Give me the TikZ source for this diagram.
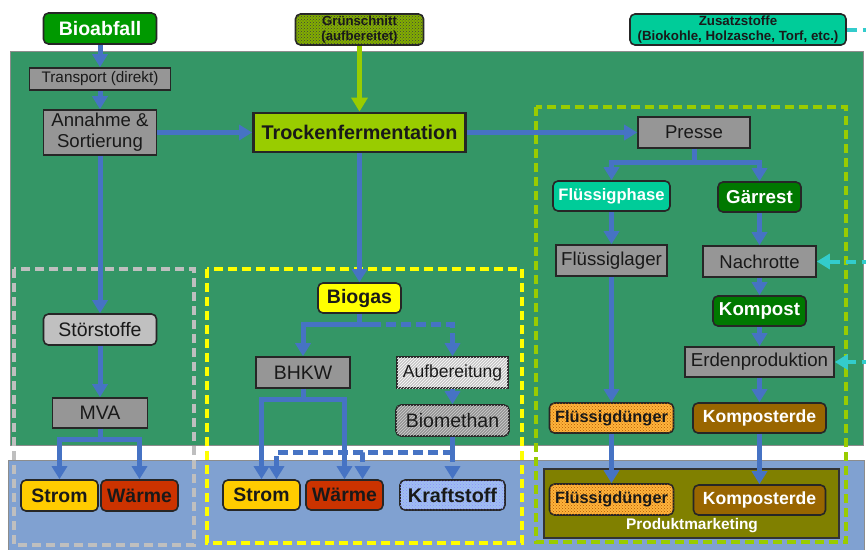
\documentclass[tikz,border=0pt]{standalone}
\usepackage{fontspec}
\setmainfont{Liberation Sans}
\usetikzlibrary{arrows.meta,patterns}
\definecolor{bggreen}{RGB}{52,150,102}
\definecolor{bgblue}{RGB}{128,161,209}
\definecolor{arrblue}{RGB}{70,115,196}
\definecolor{boxgray}{RGB}{150,150,150}
\definecolor{lgray}{RGB}{192,192,192}
\definecolor{biog}{RGB}{0,153,0}
\definecolor{dkg}{RGB}{0,120,0}
\definecolor{teal}{RGB}{0,204,153}
\definecolor{ygreen}{RGB}{153,204,0}
\definecolor{stromc}{RGB}{255,204,0}
\definecolor{waermec}{RGB}{204,51,0}
\definecolor{brownc}{RGB}{153,102,0}
\definecolor{olivec}{RGB}{128,128,0}
\definecolor{cyanc}{RGB}{51,204,204}
\definecolor{orangec}{RGB}{255,180,60}
\definecolor{kraftc}{RGB}{160,192,240}
\definecolor{yellowc}{RGB}{255,255,0}
\newcommand\fsz[2]{\fontsize{#1}{#2}\selectfont}
\tikzset{
  base/.style={draw=black!85, line width=1.6pt, inner sep=0pt, align=center, text=black!90},
  grbox/.style={base, fill=boxgray},
  rbox/.style={base, rounded corners=5pt},
  ln/.style={draw=arrblue, line width=5pt},
  arr/.style={ln, -{Triangle[width=15pt,length=13pt]}},
  arrd/.style={arr, dash pattern=on 10pt off 5pt},
  arrg/.style={draw=ygreen, line width=5pt, -{Triangle[width=16pt,length=14pt]}},
  arrc/.style={draw=cyanc, line width=4pt, dash pattern=on 10pt off 6pt, -{Triangle[width=15pt,length=13pt]}},
  lnc/.style={draw=cyanc, line width=4pt, dash pattern=on 10pt off 6pt},
  dbox/.style={line width=3.2pt, dash pattern=on 9pt off 5pt},
}
\begin{document}
\begin{tikzpicture}[x=1pt,y=-1pt]
\useasboundingbox (0,0) rectangle (866,549);
% backgrounds
\filldraw[fill=bggreen, draw=black!45, line width=1pt] (10,51) rectangle (863,445);
\filldraw[fill=bgblue, draw=black!45, line width=1pt] (8,460) rectangle (864,556);
\draw[dbox, draw=black!25] (14,269) rectangle (194,545);
\draw[dbox, draw=yellowc] (207,269) rectangle (522,543);
\draw[dbox, draw=ygreen] (536,107) rectangle (846,542);
\filldraw[fill=olivec, draw=black!80, line width=1.8pt] (544,469) rectangle (839,538);
\node[text=white, font=\fsz{15.4}{17}\bfseries] (pm) at (692,526) {Produktmarketing};

% nodes
\node[rbox, fill=biog, text=white, font=\fsz{19.5}{22}\bfseries, minimum width=113pt, minimum height=31pt] (bio) at (100,28.5) {Bioabfall};
\node[grbox, font=\fsz{15.3}{17}, minimum width=141pt, minimum height=22pt] (tr) at (100,79) {Transport (direkt)};
\node[grbox, font=\fsz{18.6}{21}, minimum width=113pt, minimum height=45pt] (ann) at (100,132.5) {Annahme \&\\Sortierung};
\node[base, fill=ygreen, line width=2.8pt, font=\fsz{19.8}{22}\bfseries, minimum width=212pt, minimum height=39pt] (tf) at (359.5,132.5) {Trockenfermentation};
\node[rbox, fill=ygreen!85!black, postaction={pattern=crosshatch dots, pattern color=black!75}, font=\fsz{13.2}{15}\bfseries, minimum width=128pt, minimum height=31pt] (gs) at (359.5,29.5) {Grünschnitt\\(aufbereitet)};
\node[rbox, fill=teal, font=\fsz{13.3}{15}\bfseries, minimum width=216pt, minimum height=31pt] (zs) at (738,29.5) {Zusatzstoffe\\(Biokohle, Holzasche, Torf, etc.)};
\node[grbox, font=\fsz{18.6}{21}, minimum width=112pt, minimum height=31pt] (pr) at (694,132.5) {Presse};
\node[rbox, fill=teal, text=white, font=\fsz{16.6}{19}\bfseries, minimum width=117pt, minimum height=30pt] (fp) at (611.5,196) {Flüssigphase};
\node[rbox, fill=dkg, text=white, font=\fsz{18.7}{21}\bfseries, minimum width=83pt, minimum height=30pt] (gr) at (759.5,197) {Gärrest};
\node[grbox, font=\fsz{18.7}{21}, minimum width=111pt, minimum height=31pt] (fl) at (611.5,260.5) {Flüssiglager};
\node[grbox, font=\fsz{18.5}{21}, minimum width=113pt, minimum height=31pt] (na) at (759.5,261.5) {Nachrotte};
\node[rbox, fill=dkg, text=white, font=\fsz{18.7}{21}\bfseries, minimum width=93pt, minimum height=30pt] (ko) at (759.5,311) {Kompost};
\node[grbox, font=\fsz{18.7}{21}, minimum width=149pt, minimum height=30pt] (ep) at (759.5,362) {Erdenproduktion};
\node[rbox, fill=orangec, postaction={pattern=crosshatch dots, pattern color=orange!70!black}, font=\fsz{16.4}{19}\bfseries, minimum width=124pt, minimum height=30pt] (fd1) at (611.5,418) {Flüssigdünger};
\node[rbox, fill=brownc, text=white, font=\fsz{17.6}{20}\bfseries, minimum width=133pt, minimum height=30pt] (ke1) at (759.5,418) {Komposterde};
\node[rbox, fill=orangec, postaction={pattern=crosshatch dots, pattern color=orange!70!black}, font=\fsz{16.4}{19}\bfseries, minimum width=124pt, minimum height=31pt] (fd2) at (611.5,499.5) {Flüssigdünger};
\node[rbox, fill=brownc, text=white, font=\fsz{17.6}{20}\bfseries, minimum width=132pt, minimum height=30pt] (ke2) at (759.5,500) {Komposterde};
\node[rbox, fill=lgray, font=\fsz{19.5}{22}, minimum width=113pt, minimum height=31pt] (st) at (100,329.5) {Störstoffe};
\node[grbox, font=\fsz{19.5}{22}, minimum width=95pt, minimum height=30pt] (mva) at (100,413) {MVA};
\node[rbox, fill=stromc, font=\fsz{19.4}{22}\bfseries, minimum width=77pt, minimum height=31pt] (s1) at (59.5,495.5) {Strom};
\node[rbox, fill=waermec, font=\fsz{19.4}{22}\bfseries, minimum width=77pt, minimum height=31pt] (w1) at (139.5,495.5) {Wärme};
\node[rbox, fill=yellowc, font=\fsz{19.5}{22}\bfseries, minimum width=83pt, minimum height=30pt] (bg) at (359.5,298) {Biogas};
\node[grbox, font=\fsz{19.5}{22}, minimum width=94pt, minimum height=31pt] (bh) at (303,372.5) {BHKW};
\node[base, fill=black!22, postaction={pattern=north east lines, pattern color=white}, font=\fsz{17.5}{20}, minimum width=111pt, minimum height=31pt] (au) at (452.5,372.5) {Aufbereitung};
\node[rbox, fill=black!42, postaction={pattern=north east lines, pattern color=black!18}, font=\fsz{19.5}{22}, minimum width=113pt, minimum height=31pt] (bm) at (452.5,420.5) {Biomethan};
\node[rbox, fill=stromc, font=\fsz{19.4}{22}\bfseries, minimum width=77pt, minimum height=30pt] (s2) at (261.5,495) {Strom};
\node[rbox, fill=waermec, font=\fsz{19.4}{22}\bfseries, minimum width=77pt, minimum height=30pt] (w2) at (344.5,495) {Wärme};
\node[rbox, fill=kraftc, postaction={pattern=crosshatch dots, pattern color=blue!45!white}, font=\fsz{19.8}{22}\bfseries, minimum width=105pt, minimum height=30pt] (kr) at (452.5,495) {Kraftstoff};

% connectors
\draw[arr] (bio) -- (tr);
\draw[arr] (tr) -- (ann);
\draw[arr] (ann) -- (tf);
\draw[arr] (ann) -- (st);
\draw[arr] (st) -- (mva);
\draw[arrg] (gs) -- (tf);
\draw[arr] (tf) -- (pr);
\draw[arr] (tf) -- (bg);
\draw[arr] (mva.south) -- ++(0,11) -| (s1.north);
\draw[arr] (mva.south) -- ++(0,11) -| (w1.north);
\draw[arr] (bg.south) -- ++(0,11) coordinate (bgs) -| (bh.north);
\draw[ln] (bgs) -- ++(11,0) coordinate (bgd);
\draw[arrd] (bgd) -| (au.north);
\draw[arr] (bh.south) -- ++(0,11) -| (s2.north);
\draw[arr] (bh.south) -- ++(0,11) -| (w2.north);
\draw[arr] (au) -- (bm);
\coordinate (bms) at (452.5,452);
\draw[ln] (bm.south) -- (bms);
\draw[arrd] (bms) -- (kr.north);
\draw[arrd] (bms) -| ([xshift=15pt]s2.north);
\draw[arrd] (bms) -| ([xshift=18pt]w2.north);
\draw[arr] (pr.south) -- ++(0,14) -| (fp.north);
\draw[arr] (pr.south) -- ++(0,14) -| (gr.north);
\draw[arr] (fp) -- (fl);
\draw[arr] (fl) -- (fd1);
\draw[arr] (fd1) -- (fd2);
\draw[arr] (gr) -- (na);
\draw[arr] (na) -- (ko);
\draw[arr] (ko) -- (ep);
\draw[arr] (ep) -- (ke1);
\draw[arr] (ke1) -- (ke2);
\coordinate (c1) at (872,29.5);
\coordinate (c2) at (872,261.5);
\coordinate (c3) at (872,362);
\draw[lnc] (zs.east) -- (c1);
\draw[arrc] (c2) -- (na.east);
\draw[arrc] (c3) -- (ep.east);
\end{tikzpicture}
\end{document}
